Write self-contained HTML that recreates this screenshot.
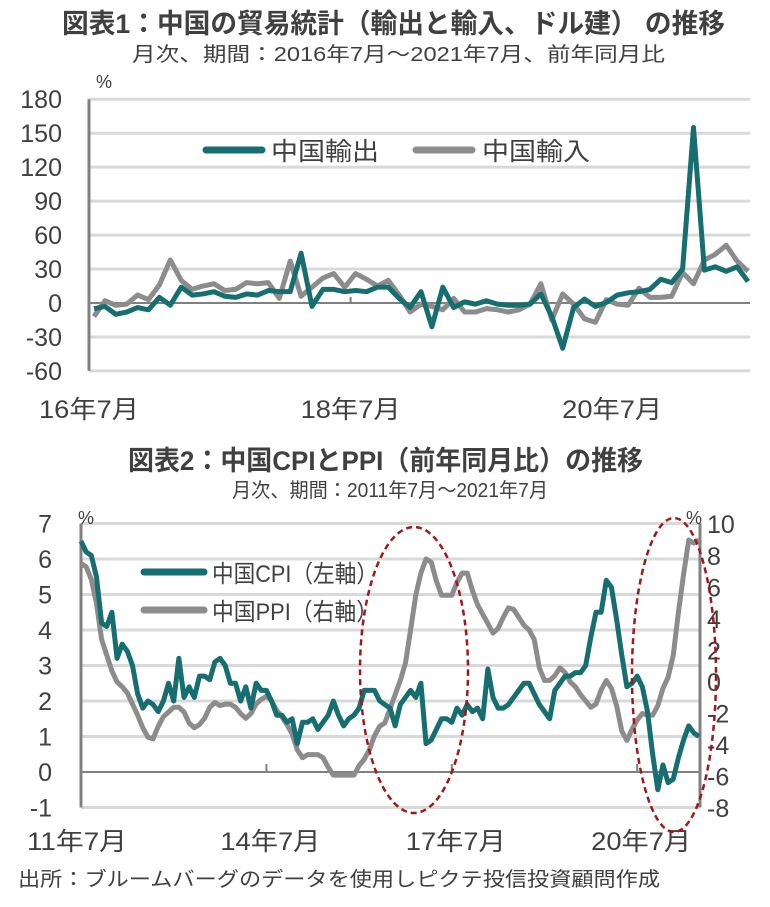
<!DOCTYPE html>
<html><head><meta charset="utf-8"><style>
html,body{margin:0;padding:0;background:#fff;}
svg{display:block;font-family:"Liberation Sans","Noto Sans CJK JP",sans-serif;}
</style></head><body>
<svg id="root" width="770" height="907" viewBox="0 0 770 907">
<g fill="#404040">
<text x="62" y="33" font-size="27" font-weight="bold" textLength="663" lengthAdjust="spacingAndGlyphs">図表1：中国の貿易統計（輸出と輸入、ドル建） の推移</text>
<text x="132" y="61" font-size="20" textLength="533" lengthAdjust="spacingAndGlyphs">月次、期間：2016年7月～2021年7月、前年同月比</text>
</g>
<g id="c1"></g>
<g fill="#404040">
<text x="128" y="470" font-size="27" font-weight="bold" textLength="515" lengthAdjust="spacingAndGlyphs">図表2：中国CPIとPPI（前年同月比）の推移</text>
<text x="232" y="497" font-size="20" textLength="316" lengthAdjust="spacingAndGlyphs">月次、期間：2011年7月～2021年7月</text>
</g>
<g id="c2"></g>
<text x="18" y="886" font-size="20" fill="#404040" textLength="642" lengthAdjust="spacingAndGlyphs">出所：ブルームバーグのデータを使用しピクテ投信投資顧問作成</text>
</svg>
<script>
const exportsData=[-5,-3,-10,-8,-4,-6,5,-2,14,7,8,10,6,5,8,7,11,10,10,44,-3,12,12,10,11,10,14,14,4,-4,10,-21,14,-4,1,-1,2,-1,-2,-2,-1,8,-12,-40,-4,3.5,-3,0.5,7,9,10,12,21,18,30,155,29,32,28,32,19];
const importsData=[-12,2,-2,-1,7,3,16,38,20,12,15,17,11,12,18,17,18,4,37,6,14,22,26,14,26,21,15,20,7,-8,-1,-3,-6,4,-8,-8,-5,-6,-8,-6,-1,17,-15,8,-1,-14,-17,3,-1,-2,13,5,5,6,27,17,38,43,51,37,28];
const c1Ticks=[180,150,120,90,60,30,0,-30,-60];
const c1XLabels=["16年7月","18年7月","20年7月"];
const c1XLabelIdx=[0,24,48];

const cpiData=[6.5,6.2,6.1,5.5,4.2,4.1,4.5,3.2,3.6,3.4,3.0,2.2,1.8,2.0,1.9,1.7,2.0,2.5,2.0,3.2,2.1,2.4,2.1,2.7,2.7,2.6,3.1,3.2,3.0,2.5,2.5,2.0,2.4,1.8,2.5,2.3,2.3,2.0,1.6,1.6,1.4,1.5,0.8,1.4,1.4,1.5,1.2,1.4,1.6,2.0,1.6,1.3,1.5,1.6,1.8,2.3,2.3,2.3,2.0,1.9,1.8,1.3,1.9,2.1,2.3,2.1,2.5,0.8,0.9,1.2,1.5,1.5,1.4,1.8,1.6,1.9,1.7,1.8,1.5,2.9,2.1,1.8,1.8,1.9,2.1,2.3,2.5,2.5,2.2,1.9,1.7,1.5,2.3,2.5,2.7,2.7,2.8,2.8,3.0,3.8,4.5,4.5,5.4,5.2,4.3,3.3,2.4,2.5,2.7,2.4,1.7,0.5,-0.5,0.2,-0.3,-0.2,0.4,0.9,1.3,1.1,1.0];
const ppiData=[7.5,7.3,6.5,5.0,2.7,1.7,0.7,0.0,-0.3,-0.7,-1.4,-2.1,-2.9,-3.5,-3.6,-2.8,-2.2,-1.9,-1.6,-1.6,-1.9,-2.6,-2.9,-2.7,-2.3,-1.6,-1.3,-1.5,-1.4,-1.4,-1.6,-2.0,-2.3,-2.0,-1.4,-1.1,-0.9,-1.2,-1.8,-2.2,-2.7,-3.3,-4.3,-4.8,-4.6,-4.6,-4.6,-4.8,-5.4,-5.9,-5.9,-5.9,-5.9,-5.9,-5.3,-4.9,-4.3,-3.4,-2.8,-2.6,-1.7,-0.8,0.1,1.2,3.3,5.5,6.9,7.8,7.6,6.4,5.5,5.5,5.5,6.3,6.9,6.9,5.8,4.9,4.3,3.7,3.1,3.4,4.1,4.7,4.6,4.1,3.6,3.3,2.7,0.9,0.1,0.1,0.4,0.9,0.6,0.0,-0.3,-0.8,-1.2,-1.6,-1.4,-0.5,0.1,-0.4,-1.5,-3.1,-3.7,-3.0,-2.4,-2.0,-2.1,-2.1,-1.5,-0.4,0.3,1.7,4.4,6.8,9.0,8.8,9.0];
const c2LeftTicks=[7,6,5,4,3,2,1,0,-1];
const c2RightTicks=[10,8,6,4,2,0,-2,-4,-6,-8];
const c2XLabels=["11年7月","14年7月","17年7月","20年7月"];
const c2XLabelIdx=[0,36,72,108];

const NS="http://www.w3.org/2000/svg";
function mk(parent,tag,attrs,text){const e=document.createElementNS(NS,tag);for(const k in attrs)e.setAttribute(k,attrs[k]);if(text!==undefined)e.textContent=text;parent.appendChild(e);return e;}
const TEAL="#166e70",GRAY="#8c8c8c",GRID="#d9d9d9",AX="#808080",TXT="#404040";

// Chart 1
(function(){
const g=document.getElementById('c1');
const x0=89,x1=750;
const x=i=>94+i*10.9;
const y=v=>303-v*1.132;
c1Ticks.forEach(t=>{
 if(t!==0){const l=mk(g,'line',{x1:x0,x2:x1,y1:y(t),y2:y(t),stroke:GRID,'stroke-width':3});
 
 }
 const tx=mk(g,'text',{x:62,y:y(t)+9,'font-size':25,'text-anchor':'end',fill:TXT},String(t));
 
 
});
const ya=mk(g,'line',{x1:x0,x2:x0,y1:y(180),y2:y(-60),stroke:AX,'stroke-width':3});


const za=mk(g,'line',{x1:x0,x2:x1,y1:y(0),y2:y(0),stroke:AX,'stroke-width':2});


const pc=mk(g,'text',{x:96,y:88,'font-size':18,fill:TXT},'%');


c1XLabels.forEach((s,k)=>{
 const xx=89+c1XLabelIdx[k]*10.9;
 if(k>0){const tk=mk(g,'line',{x1:xx,x2:xx,y1:y(0),y2:y(0)-6,stroke:AX,'stroke-width':2});
 
 }
 const t=mk(g,'text',{x:xx,y:418,'font-size':25,'text-anchor':'middle',fill:TXT,textLength:100,lengthAdjust:'spacingAndGlyphs'},s);
 
 
});
const ip=mk(g,'polyline',{points:importsData.map((v,i)=>x(i)+','+y(v)).join(' '),fill:'none',stroke:GRAY,'stroke-width':5,'stroke-linejoin':'round'});


const ep=mk(g,'polyline',{points:exportsData.map((v,i)=>x(i)+','+y(v)).join(' '),fill:'none',stroke:TEAL,'stroke-width':5,'stroke-linejoin':'round'});


const l1=mk(g,'line',{x1:206,x2:262,y1:150,y2:150,stroke:TEAL,'stroke-width':7,'stroke-linecap':'round'});


const t1=mk(g,'text',{x:271,y:160,'font-size':25,fill:TXT,textLength:108,lengthAdjust:'spacingAndGlyphs'},'中国輸出');


const l2=mk(g,'line',{x1:416,x2:472,y1:150,y2:150,stroke:GRAY,'stroke-width':7,'stroke-linecap':'round'});


const t2=mk(g,'text',{x:482,y:160,'font-size':25,fill:TXT,textLength:108,lengthAdjust:'spacingAndGlyphs'},'中国輸入');


})();

// Chart 2
(function(){
const g=document.getElementById('c2');
const x0=81,x1=700;
const x=i=>81+i*5.15;
const yl=v=>772-v*35.5;
const yr=v=>682-v*15.78;
c2LeftTicks.forEach(t=>{
 if(t!==0&&t!==-1){const l=mk(g,'line',{x1:x0,x2:x1,y1:yl(t),y2:yl(t),stroke:GRID,'stroke-width':3});
 
 }
 const tx=mk(g,'text',{x:52,y:yl(t)+9,'font-size':25,'text-anchor':'end',fill:TXT},String(t));
 
 
});
c2RightTicks.forEach(t=>{
 const tx=mk(g,'text',{x:707,y:yr(t)+9,'font-size':25,fill:TXT},String(t));
 
 
});
const bl=mk(g,'line',{x1:x0,x2:x1,y1:yl(-1),y2:yl(-1),stroke:GRID,'stroke-width':3});


const ya=mk(g,'line',{x1:x0,x2:x0,y1:yl(7),y2:yl(-1),stroke:AX,'stroke-width':3});


const yb=mk(g,'line',{x1:x1,x2:x1,y1:yl(7),y2:yl(-1),stroke:AX,'stroke-width':3});


const za=mk(g,'line',{x1:x0,x2:x1,y1:yl(0),y2:yl(0),stroke:AX,'stroke-width':2});


const p1=mk(g,'text',{x:78,y:524,'font-size':18,fill:TXT},'%');


const p2=mk(g,'text',{x:686,y:524,'font-size':18,fill:TXT},'%');


c2XLabels.forEach((s,k)=>{
 const xx=x(c2XLabelIdx[k]);
 if(k>0){const tk=mk(g,'line',{x1:xx,x2:xx,y1:yl(0),y2:yl(0)-8,stroke:AX,'stroke-width':2});
 
 }
 const t=mk(g,'text',{x:k===0?xx-4:xx+4,y:850,'font-size':25,'text-anchor':'middle',fill:TXT,textLength:100,lengthAdjust:'spacingAndGlyphs'},s);
 
 
});
const pp=mk(g,'polyline',{points:ppiData.map((v,i)=>x(i)+','+yr(v)).join(' '),fill:'none',stroke:GRAY,'stroke-width':5,'stroke-linejoin':'round'});


const cp=mk(g,'polyline',{points:cpiData.map((v,i)=>x(i)+','+yl(v)).join(' '),fill:'none',stroke:TEAL,'stroke-width':5,'stroke-linejoin':'round'});


const e1=mk(g,'ellipse',{cx:414,cy:670,rx:54,ry:143,fill:'none',stroke:'#a01818','stroke-width':2.5,'stroke-dasharray':'6,4'});


const e2=mk(g,'ellipse',{cx:674,cy:675,rx:42,ry:157,fill:'none',stroke:'#a01818','stroke-width':2.5,'stroke-dasharray':'6,4'});


const l1=mk(g,'line',{x1:144,x2:204,y1:572,y2:572,stroke:TEAL,'stroke-width':7,'stroke-linecap':'round'});


const t1=mk(g,'text',{x:212,y:582,'font-size':24,fill:TXT,textLength:166,lengthAdjust:'spacingAndGlyphs'},'中国CPI（左軸）');


const l2=mk(g,'line',{x1:144,x2:204,y1:610,y2:610,stroke:GRAY,'stroke-width':7,'stroke-linecap':'round'});


const t2=mk(g,'text',{x:212,y:620,'font-size':24,fill:TXT,textLength:166,lengthAdjust:'spacingAndGlyphs'},'中国PPI（右軸）');


})();
</script>
</body></html>
